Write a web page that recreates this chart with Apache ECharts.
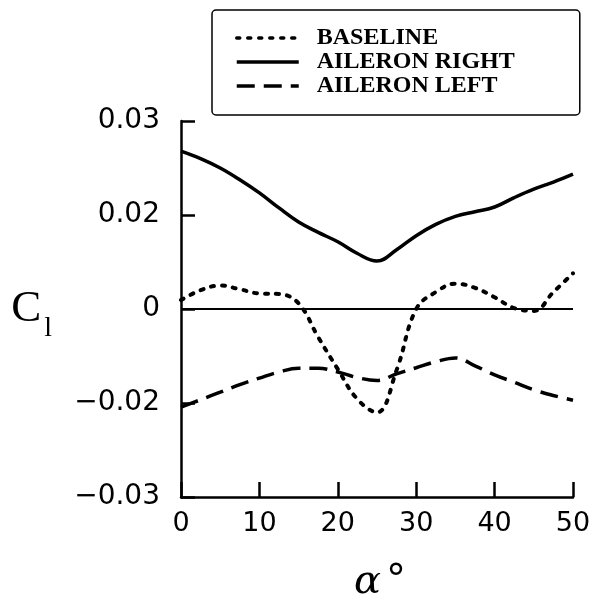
<!DOCTYPE html>
<html>
<head>
<meta charset="utf-8">
<script src="https://cdn.jsdelivr.net/npm/echarts@6/dist/echarts.min.js"></script>
<style>
  html, body { margin: 0; padding: 0; background: #fff; }
  #chart { width: 594px; height: 606px; }
</style>
</head>
<body>
<div id="chart"></div>
<script>
// angle of attack, deg
const alpha = [0, 2.5, 5, 7.5, 10, 12.5, 15, 17.5, 20, 22.5, 25, 27.5, 30, 32.5, 35, 37.5, 40, 42.5, 45, 47.5, 50]

// rolling moment coefficient
const baseline = [0.0019, 0.0040, 0.0050, 0.0042, 0.0033, 0.0032, 0.0012, -0.0060, -0.0128, -0.0192, -0.0220,
  -0.0130, 0.0000, 0.0036, 0.0054, 0.0045, 0.0025, 0.0002, -0.0004, 0.0036, 0.0076]
const aileronRight = [0.0336, 0.0320, 0.0300, 0.0275, 0.0247, 0.0215, 0.0185, 0.0163, 0.0143, 0.0118, 0.0102,
  0.0126, 0.0156, 0.0180, 0.0197, 0.0207, 0.0217, 0.0237, 0.0255, 0.0270, 0.0287]
const aileronLeft = [-0.0209, -0.0193, -0.0177, -0.0161, -0.0147, -0.0134, -0.0126, -0.0126, -0.0134, -0.0146, -0.0152,
  -0.0138, -0.0125, -0.0112, -0.0104, -0.0121, -0.0140, -0.0156, -0.0172, -0.0184, -0.0194]

// tick labels as printed on the original figure
const yTickValues = [-0.04, -0.02, 0, 0.02, 0.04]
const yTickLabels = ['\u22120.03', '\u22120.02', '0', '0.02', '0.03']

const names = ['BASELINE', 'AILERON RIGHT', 'AILERON LEFT']

const chart = echarts.init(document.getElementById('chart'))

const pairs = arr => alpha.map((a, i) => [a, arr[i]])

chart.setOption({
  animation: false,
  backgroundColor: '#fff',
  grid: { left: 181, right: 21, top: 121, bottom: 109, outerBoundsMode: 'none' },
  legend: {
    data: names,
    orient: 'vertical',
    left: 212,
    top: 10,
    padding: [16, 65, 17, 23],
    itemWidth: 62,
    itemHeight: 18,
    itemGap: 0,
    itemStyle: { opacity: 0 },
    lineStyle: { width: 3.5 },
    borderColor: '#000',
    borderWidth: 1.5,
    borderRadius: 4,
    textStyle: {
      color: '#000',
      fontFamily: 'Liberation Serif',
      fontWeight: 'bold',
      fontSize: 24,
      padding: [0, 0, 0, 13]
    }
  },
  xAxis: {
    type: 'value',
    min: 0,
    max: 50,
    interval: 10,
    name: '{a|\u03b1}{b|\u00b0}',
    nameLocation: 'middle',
    nameGap: 66,
    nameTextStyle: {
      rich: {
        a: { fontFamily: 'DejaVu Serif', fontStyle: 'italic', fontSize: 40, color: '#000', padding: [0, 0, 0, 6] },
        b: { fontFamily: 'DejaVu Sans', fontSize: 40, color: '#000', padding: [0, 0, 0, 5] }
      }
    },
    axisLine: { onZero: false, lineStyle: { color: '#000', width: 2.5 } },
    axisTick: { inside: true, length: 15, lineStyle: { color: '#000', width: 2.5 } },
    axisLabel: { color: '#000', fontFamily: 'DejaVu Sans', fontSize: 27, margin: 13 },
    splitLine: { show: false }
  },
  yAxis: {
    type: 'value',
    min: -0.04,
    max: 0.04,
    interval: 0.02,
    name: '{a|C}{b|l}',
    nameLocation: 'middle',
    nameRotate: 0,
    nameGap: 129,
    nameTextStyle: {
      rich: {
        a: { fontFamily: 'Liberation Serif', fontSize: 45, color: '#000' },
        b: { fontFamily: 'Liberation Serif', fontSize: 28, color: '#000', padding: [40, 0, 0, 3] }
      }
    },
    axisLine: { show: true, lineStyle: { color: '#000', width: 2.5 } },
    axisTick: { inside: true, length: 14, lineStyle: { color: '#000', width: 2.5 } },
    axisLabel: {
      color: '#000',
      fontFamily: 'DejaVu Sans',
      fontSize: 28,
      margin: 21,
      formatter: v => {
        const i = yTickValues.findIndex(t => Math.abs(t - v) < 1e-9)
        return i >= 0 ? yTickLabels[i] : ''
      }
    },
    splitLine: { show: false }
  },
  series: [
    {
      name: names[0],
      type: 'line',
      smooth: 0.4,
      symbol: 'none',
      data: pairs(baseline),
      lineStyle: { color: '#000', width: 4, type: [3, 8], cap: 'round' },
      markLine: {
        silent: true,
        symbol: 'none',
        label: { show: false },
        lineStyle: { color: '#000', width: 2, type: 'solid' },
        data: [{ yAxis: 0 }]
      }
    },
    {
      name: names[1],
      type: 'line',
      smooth: 0.4,
      symbol: 'none',
      data: pairs(aileronRight),
      lineStyle: { color: '#000', width: 3.5, type: 'solid' }
    },
    {
      name: names[2],
      type: 'line',
      smooth: 0.4,
      symbol: 'none',
      data: pairs(aileronLeft),
      lineStyle: { color: '#000', width: 3.5, type: [18, 9] }
    }
  ]
})
</script>
</body>
</html>
